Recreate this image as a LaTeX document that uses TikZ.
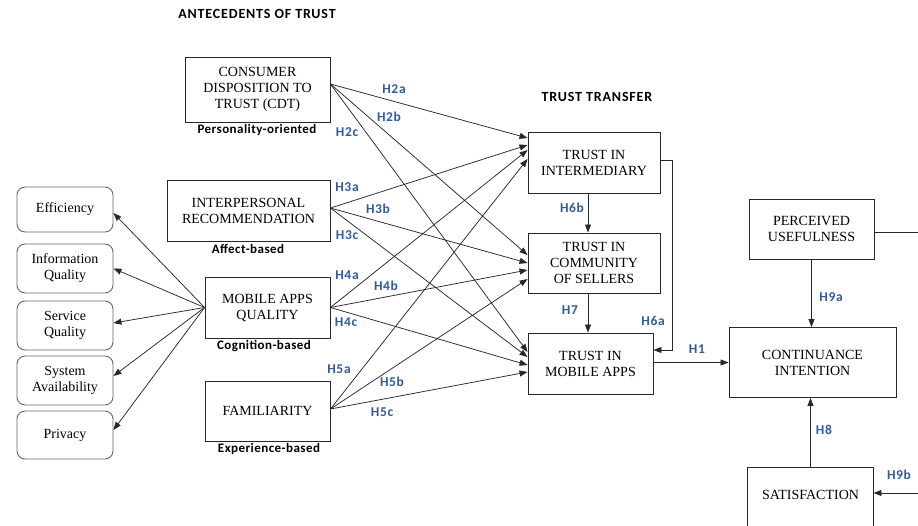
\documentclass[tikz,border=0pt]{standalone}
\usepackage{fontspec}
\setmainfont{Liberation Serif}
\newfontfamily\labelfont[LetterSpace=5]{Carlito}
\newfontfamily\notefont[LetterSpace=3.5]{Carlito}
\newfontfamily\headfont[LetterSpace=6]{Carlito}
\usetikzlibrary{arrows.meta}
\definecolor{hblue}{RGB}{50,90,158}
\definecolor{edge}{RGB}{40,40,40}

\tikzset{
  box/.style={draw=edge, line width=0.9pt, inner sep=0pt, align=center,
    font=\fontsize{14}{16}\selectfont},
  rbox/.style={box, draw=black!60, rounded corners=8pt, minimum width=96pt},
  hyp/.style={font=\labelfont\bfseries\fontsize{13.5}{15}\selectfont, text=hblue, inner sep=0pt},
  note/.style={font=\notefont\bfseries\fontsize{13}{15}\selectfont, inner sep=0pt},
  head/.style={font=\headfont\bfseries\fontsize{14}{16}\selectfont, inner sep=0pt},
  arr/.style={draw=edge, line width=0.75pt, -{Triangle[length=8pt,width=6pt]}},
  plain/.style={draw=edge, line width=0.75pt}
}

\begin{document}
\begin{tikzpicture}[x=1pt,y=-1pt]
\useasboundingbox (0,0) rectangle (918,525);
\clip (0,0) rectangle (918,525);

% headings
\node[head] (hAnt) at (257,14) {ANTECEDENTS OF TRUST};
\node[head] (hTT) at (597,97) {TRUST TRANSFER};

% antecedents
\node[box, minimum width=145pt, minimum height=65pt] (cdt) at (257.5,89.5)
  {CONSUMER\\DISPOSITION TO\\TRUST (CDT)};
\node[box, minimum width=163pt, minimum height=61pt] (ir) at (248.5,210.5)
  {INTERPERSONAL\\RECOMMENDATION};
\node[box, minimum width=125pt, minimum height=61pt] (maq) at (267.5,307.5)
  {MOBILE APPS\\QUALITY};
\node[box, minimum width=125pt, minimum height=60pt] (fam) at (267.5,411)
  {FAMILIARITY};

\node[note] (nCdt) at (257,130) {Personality-oriented};
\node[note] (nIr) at (248,249) {Affect-based};
\node[note] (nMaq) at (264,346) {Cognition-based};
\node[note] (nFam) at (269,449) {Experience-based};

% quality dimensions
\node[rbox, minimum height=45pt] (eff) at (65,209.5) {Efficiency};
\node[rbox, minimum height=49pt] (iq) at (65,268.5) {Information\\Quality};
\node[rbox, minimum height=49pt] (sq) at (65,325.5) {Service\\Quality};
\node[rbox, minimum height=49pt] (sa) at (65,380.5) {System\\Availability};
\node[rbox, minimum height=48pt] (pr) at (65,435) {Privacy};

% trust transfer
\node[box, minimum width=132pt, minimum height=61pt] (tii) at (594,162.5)
  {TRUST IN\\INTERMEDIARY};
\node[box, minimum width=132pt, minimum height=60pt] (tcs) at (594,263)
  {TRUST IN\\COMMUNITY\\OF SELLERS};
\node[box, minimum width=125pt, minimum height=61pt] (tma) at (590.5,363.5)
  {TRUST IN\\MOBILE APPS};

% outcomes
\node[box, minimum width=125pt, minimum height=60pt] (pu) at (811.5,229)
  {PERCEIVED\\USEFULNESS};
\node[box, minimum width=167pt, minimum height=70pt] (ci) at (812.5,362.5)
  {CONTINUANCE\\INTENTION};
\node[box, draw=none, minimum width=125pt, minimum height=54pt] (sat) at (810.5,495)
  {SATISFACTION};
\draw[box] ([yshift=-30pt]sat.south west) -- (sat.north west) -- (sat.north east)
  -- ([yshift=-30pt]sat.south east);

% MAQ dimensions
\draw[arr] (maq.west) -- ([yshift=-3.5pt]eff.east);
\draw[arr] (maq.west) -- (iq.east);
\draw[arr] (maq.west) -- ([yshift=2.5pt]sq.east);
\draw[arr] (maq.west) -- ([yshift=4.5pt]sa.east);
\draw[arr] (maq.west) -- ([yshift=5pt]pr.east);

% sources on the right sides
\coordinate (sCdt) at ([yshift=5.5pt]cdt.east);
\coordinate (sIr)  at ([yshift=2.5pt]ir.east);
\coordinate (sMaq) at (maq.east);
\coordinate (sFam) at ([yshift=2pt]fam.east);

% antecedents -> trust in intermediary
\draw[arr] (sCdt) -- ([yshift=24.5pt]tii.west);
\draw[arr] (sIr)  -- ([yshift=17.5pt]tii.west);
\draw[arr] (sMaq) -- ([yshift=12.5pt]tii.west);
\draw[arr] (sFam) -- ([yshift=3.5pt]tii.west);
% antecedents -> trust in community of sellers
\draw[arr] (sCdt) -- ([yshift=8pt]tcs.west);
\draw[arr] (sIr)  -- (tcs.west);
\draw[arr] (sMaq) -- ([yshift=-7pt]tcs.west);
\draw[arr] (sFam) -- ([yshift=-16pt]tcs.west);
% antecedents -> trust in mobile apps
\draw[arr] (sCdt) -- ([yshift=11.5pt]tma.west);
\draw[arr] (sIr)  -- ([yshift=6.5pt]tma.west);
\draw[arr] (sMaq) -- ([yshift=-1.5pt]tma.west);
\draw[arr] (sFam) -- ([yshift=-8.5pt]tma.west);

% trust transfer paths
\draw[arr] ([xshift=-6pt]tii.south) -- ([xshift=-6pt]tii.south |- tcs.north);
\draw[arr] ([xshift=-6pt]tcs.south) -- ([xshift=-6pt]tcs.south |- tma.north);
\coordinate (elbow) at (672,160);
\draw[arr] ([yshift=2.5pt]tii.east) -- (elbow) -- (elbow |- 0,350) -- ([yshift=13.5pt]tma.east);
\draw[arr] (tma.east |- ci.west) -- (ci.west);

% outcome paths
\draw[arr] (pu.south) -- (pu.south |- ci.north);
\draw[arr] (sat.north) -- (sat.north |- ci.south);
\coordinate (puOut) at (918,232);
\draw[plain] ([yshift=-3pt]pu.east) -- (puOut);
\coordinate (satIn) at (918,493);
\draw[arr] (satIn) -- (satIn -| sat.east);

% hypothesis labels
\node[hyp] (H2a) at (394,89) {H2a};
\node[hyp] (H2b) at (389,117) {H2b};
\node[hyp] (H2c) at (347,132) {H2c};
\node[hyp] (H3a) at (347,187) {H3a};
\node[hyp] (H3b) at (378,209) {H3b};
\node[hyp] (H3c) at (347,235) {H3c};
\node[hyp] (H4a) at (347,275) {H4a};
\node[hyp] (H4b) at (386,286) {H4b};
\node[hyp] (H4c) at (346,322) {H4c};
\node[hyp] (H5a) at (339,369) {H5a};
\node[hyp] (H5b) at (392,382) {H5b};
\node[hyp] (H5c) at (382,412) {H5c};
\node[hyp] (H6b) at (572,208) {H6b};
\node[hyp] (H7) at (570,310) {H7};
\node[hyp] (H6a) at (653,321) {H6a};
\node[hyp] (H1) at (697,349) {H1};
\node[hyp] (H9a) at (831,297) {H9a};
\node[hyp] (H8) at (824,430) {H8};
\node[hyp] (H9b) at (899,475) {H9b};
\end{tikzpicture}
\end{document}
